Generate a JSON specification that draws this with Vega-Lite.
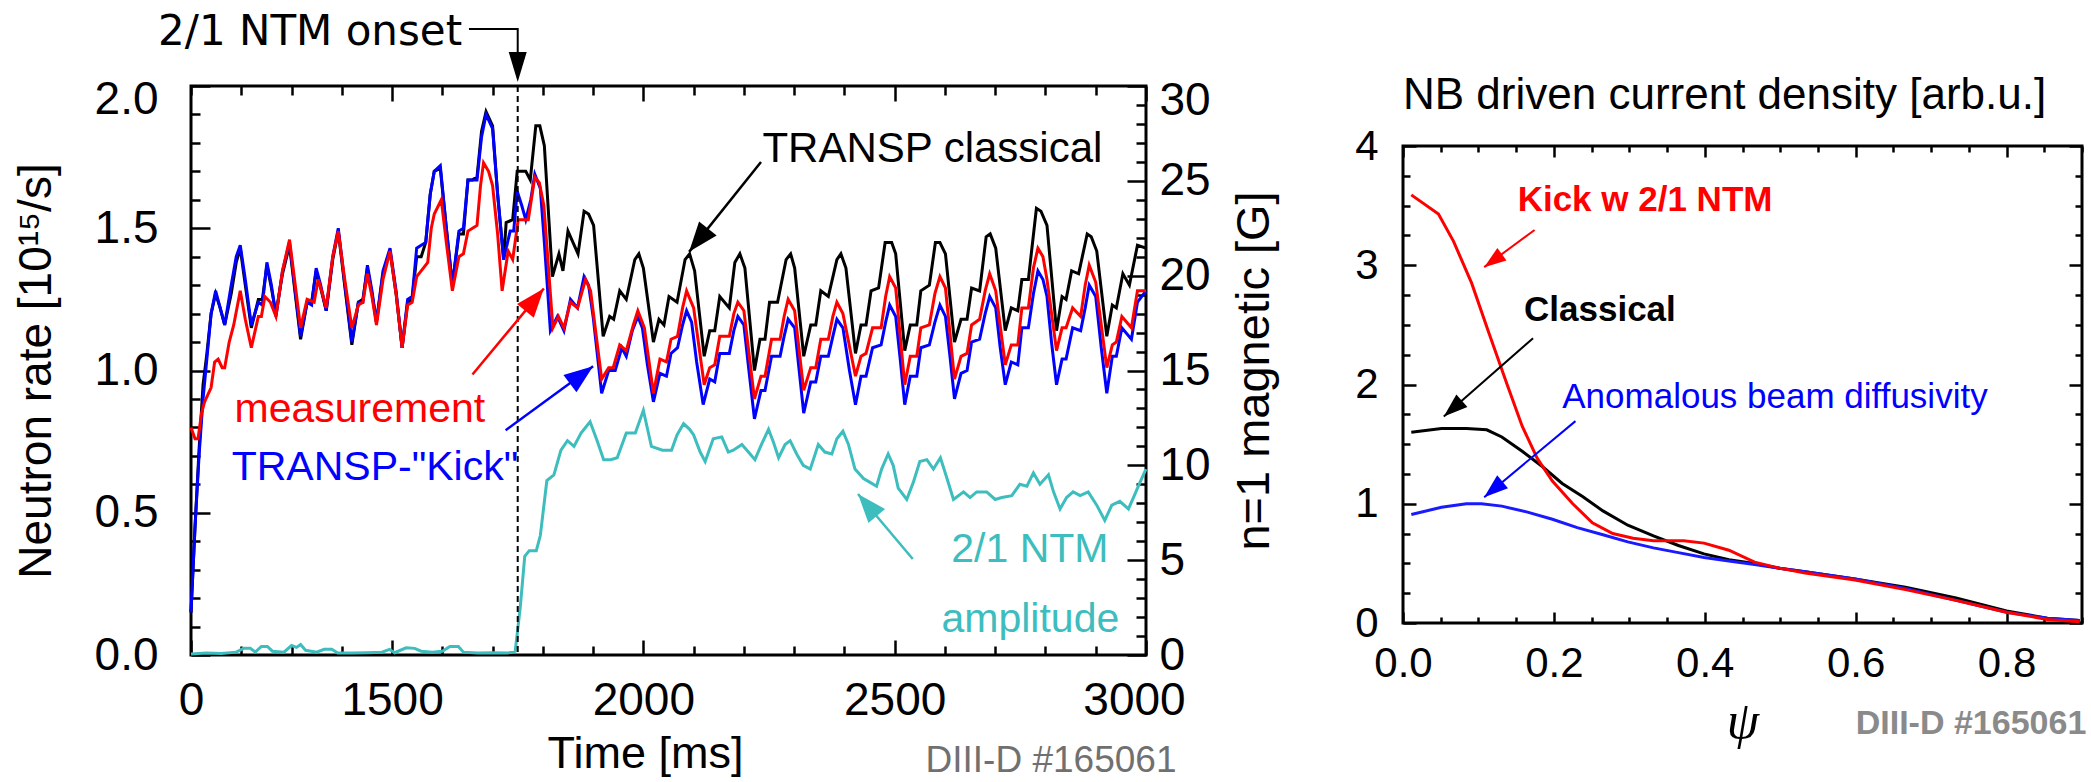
{
"$schema": "https://vega.github.io/schema/vega-lite/v6.json",
"padding": {"left": 11, "top": 9, "right": 5, "bottom": 5},
"background": "#ffffff",
"datasets": {
"classical": [{"t":1100,"v":0.15},{"t":1108,"v":0.45},{"t":1116,"v":0.72},{"t":1124,"v":0.95},{"t":1131,"v":1.05},{"t":1140,"v":1.2},{"t":1149,"v":1.27},{"t":1158,"v":1.22},{"t":1167,"v":1.16},{"t":1180,"v":1.27},{"t":1190,"v":1.38},{"t":1198,"v":1.43},{"t":1208,"v":1.3},{"t":1220,"v":1.15},{"t":1234,"v":1.25},{"t":1242,"v":1.25},{"t":1251,"v":1.37},{"t":1260,"v":1.29},{"t":1269,"v":1.2},{"t":1282,"v":1.34},{"t":1296,"v":1.44},{"t":1306,"v":1.29},{"t":1318,"v":1.11},{"t":1331,"v":1.24},{"t":1340,"v":1.24},{"t":1349,"v":1.35},{"t":1358,"v":1.29},{"t":1369,"v":1.21},{"t":1382,"v":1.39},{"t":1393,"v":1.49},{"t":1405,"v":1.31},{"t":1420,"v":1.09},{"t":1433,"v":1.24},{"t":1442,"v":1.25},{"t":1451,"v":1.36},{"t":1460,"v":1.27},{"t":1469,"v":1.17},{"t":1482,"v":1.34},{"t":1496,"v":1.42},{"t":1508,"v":1.27},{"t":1520,"v":1.08},{"t":1531,"v":1.24},{"t":1540,"v":1.25},{"t":1549,"v":1.4},{"t":1558,"v":1.4},{"t":1567,"v":1.45},{"t":1576,"v":1.62},{"t":1584,"v":1.7},{"t":1596,"v":1.71},{"t":1608,"v":1.5},{"t":1620,"v":1.3},{"t":1633,"v":1.48},{"t":1642,"v":1.48},{"t":1651,"v":1.67},{"t":1660,"v":1.67},{"t":1669,"v":1.68},{"t":1678,"v":1.84},{"t":1687,"v":1.91},{"t":1700,"v":1.86},{"t":1710,"v":1.62},{"t":1722,"v":1.39},{"t":1727,"v":1.52},{"t":1740,"v":1.53},{"t":1749,"v":1.7},{"t":1766,"v":1.7},{"t":1775,"v":1.67},{"t":1786,"v":1.86},{"t":1794,"v":1.86},{"t":1803,"v":1.79},{"t":1819,"v":1.33},{"t":1832,"v":1.41},{"t":1840,"v":1.35},{"t":1850,"v":1.49},{"t":1870,"v":1.41},{"t":1882,"v":1.56},{"t":1891,"v":1.55},{"t":1901,"v":1.51},{"t":1920,"v":1.12},{"t":1933,"v":1.19},{"t":1941,"v":1.18},{"t":1953,"v":1.28},{"t":1966,"v":1.25},{"t":1983,"v":1.39},{"t":1991,"v":1.41},{"t":2000,"v":1.36},{"t":2020,"v":1.1},{"t":2031,"v":1.18},{"t":2041,"v":1.16},{"t":2051,"v":1.26},{"t":2067,"v":1.24},{"t":2083,"v":1.39},{"t":2092,"v":1.41},{"t":2102,"v":1.35},{"t":2121,"v":1.05},{"t":2132,"v":1.14},{"t":2142,"v":1.14},{"t":2152,"v":1.26},{"t":2171,"v":1.22},{"t":2182,"v":1.38},{"t":2192,"v":1.41},{"t":2202,"v":1.36},{"t":2221,"v":1.0},{"t":2232,"v":1.11},{"t":2242,"v":1.11},{"t":2251,"v":1.24},{"t":2267,"v":1.24},{"t":2284,"v":1.39},{"t":2293,"v":1.41},{"t":2301,"v":1.36},{"t":2319,"v":1.05},{"t":2333,"v":1.16},{"t":2343,"v":1.16},{"t":2353,"v":1.28},{"t":2368,"v":1.26},{"t":2385,"v":1.39},{"t":2393,"v":1.41},{"t":2403,"v":1.36},{"t":2422,"v":1.06},{"t":2433,"v":1.16},{"t":2443,"v":1.16},{"t":2453,"v":1.28},{"t":2468,"v":1.29},{"t":2481,"v":1.45},{"t":2494,"v":1.45},{"t":2502,"v":1.41},{"t":2520,"v":1.07},{"t":2531,"v":1.16},{"t":2544,"v":1.16},{"t":2552,"v":1.28},{"t":2569,"v":1.3},{"t":2581,"v":1.45},{"t":2590,"v":1.45},{"t":2601,"v":1.41},{"t":2619,"v":1.1},{"t":2632,"v":1.18},{"t":2644,"v":1.18},{"t":2653,"v":1.29},{"t":2669,"v":1.28},{"t":2682,"v":1.47},{"t":2690,"v":1.48},{"t":2701,"v":1.43},{"t":2720,"v":1.14},{"t":2732,"v":1.22},{"t":2745,"v":1.21},{"t":2753,"v":1.32},{"t":2766,"v":1.32},{"t":2782,"v":1.57},{"t":2791,"v":1.56},{"t":2803,"v":1.51},{"t":2822,"v":1.14},{"t":2833,"v":1.26},{"t":2841,"v":1.25},{"t":2852,"v":1.35},{"t":2866,"v":1.34},{"t":2883,"v":1.48},{"t":2891,"v":1.47},{"t":2902,"v":1.42},{"t":2922,"v":1.12},{"t":2933,"v":1.23},{"t":2941,"v":1.22},{"t":2954,"v":1.34},{"t":2967,"v":1.3},{"t":2983,"v":1.44},{"t":3000,"v":1.43}],
"kick": [{"t":1100,"v":0.15},{"t":1108,"v":0.45},{"t":1116,"v":0.7},{"t":1124,"v":0.9},{"t":1131,"v":1.03},{"t":1140,"v":1.2},{"t":1149,"v":1.28},{"t":1158,"v":1.22},{"t":1167,"v":1.16},{"t":1180,"v":1.3},{"t":1190,"v":1.4},{"t":1198,"v":1.44},{"t":1208,"v":1.32},{"t":1220,"v":1.16},{"t":1234,"v":1.24},{"t":1242,"v":1.23},{"t":1251,"v":1.38},{"t":1260,"v":1.3},{"t":1269,"v":1.19},{"t":1282,"v":1.35},{"t":1296,"v":1.45},{"t":1306,"v":1.3},{"t":1318,"v":1.12},{"t":1331,"v":1.24},{"t":1340,"v":1.23},{"t":1349,"v":1.36},{"t":1358,"v":1.3},{"t":1369,"v":1.21},{"t":1382,"v":1.4},{"t":1393,"v":1.5},{"t":1405,"v":1.32},{"t":1420,"v":1.1},{"t":1433,"v":1.24},{"t":1442,"v":1.24},{"t":1451,"v":1.37},{"t":1460,"v":1.28},{"t":1469,"v":1.17},{"t":1482,"v":1.35},{"t":1496,"v":1.43},{"t":1508,"v":1.28},{"t":1520,"v":1.08},{"t":1531,"v":1.25},{"t":1540,"v":1.26},{"t":1549,"v":1.43},{"t":1558,"v":1.44},{"t":1567,"v":1.45},{"t":1576,"v":1.62},{"t":1584,"v":1.7},{"t":1596,"v":1.72},{"t":1608,"v":1.5},{"t":1620,"v":1.3},{"t":1633,"v":1.49},{"t":1642,"v":1.5},{"t":1651,"v":1.67},{"t":1660,"v":1.67},{"t":1669,"v":1.67},{"t":1678,"v":1.82},{"t":1687,"v":1.9},{"t":1700,"v":1.85},{"t":1710,"v":1.62},{"t":1722,"v":1.39},{"t":1735,"v":1.49},{"t":1742,"v":1.49},{"t":1749,"v":1.63},{"t":1758,"v":1.58},{"t":1766,"v":1.53},{"t":1776,"v":1.6},{"t":1784,"v":1.69},{"t":1795,"v":1.64},{"t":1803,"v":1.45},{"t":1815,"v":1.14},{"t":1829,"v":1.19},{"t":1842,"v":1.14},{"t":1855,"v":1.25},{"t":1869,"v":1.22},{"t":1882,"v":1.33},{"t":1891,"v":1.3},{"t":1900,"v":1.19},{"t":1917,"v":0.92},{"t":1931,"v":1.0},{"t":1944,"v":1.0},{"t":1957,"v":1.08},{"t":1966,"v":1.05},{"t":1978,"v":1.14},{"t":1989,"v":1.19},{"t":1998,"v":1.15},{"t":2008,"v":1.02},{"t":2020,"v":0.89},{"t":2033,"v":0.99},{"t":2046,"v":0.98},{"t":2055,"v":1.06},{"t":2068,"v":1.08},{"t":2078,"v":1.16},{"t":2086,"v":1.21},{"t":2096,"v":1.17},{"t":2106,"v":1.03},{"t":2119,"v":0.88},{"t":2132,"v":0.97},{"t":2142,"v":0.96},{"t":2152,"v":1.06},{"t":2171,"v":1.06},{"t":2180,"v":1.14},{"t":2188,"v":1.19},{"t":2200,"v":1.16},{"t":2210,"v":1.0},{"t":2221,"v":0.83},{"t":2234,"v":0.93},{"t":2242,"v":0.93},{"t":2255,"v":1.05},{"t":2272,"v":1.05},{"t":2280,"v":1.12},{"t":2288,"v":1.18},{"t":2301,"v":1.15},{"t":2310,"v":1.0},{"t":2319,"v":0.85},{"t":2333,"v":0.96},{"t":2343,"v":0.96},{"t":2353,"v":1.05},{"t":2368,"v":1.05},{"t":2377,"v":1.12},{"t":2385,"v":1.18},{"t":2397,"v":1.15},{"t":2410,"v":1.0},{"t":2422,"v":0.88},{"t":2433,"v":0.98},{"t":2443,"v":0.98},{"t":2456,"v":1.08},{"t":2473,"v":1.09},{"t":2482,"v":1.17},{"t":2490,"v":1.23},{"t":2502,"v":1.19},{"t":2511,"v":1.04},{"t":2520,"v":0.88},{"t":2531,"v":0.98},{"t":2544,"v":0.98},{"t":2552,"v":1.08},{"t":2569,"v":1.09},{"t":2580,"v":1.17},{"t":2590,"v":1.23},{"t":2601,"v":1.19},{"t":2610,"v":1.05},{"t":2619,"v":0.9},{"t":2632,"v":0.99},{"t":2644,"v":1.0},{"t":2653,"v":1.1},{"t":2669,"v":1.11},{"t":2680,"v":1.2},{"t":2689,"v":1.26},{"t":2701,"v":1.22},{"t":2710,"v":1.08},{"t":2720,"v":0.95},{"t":2732,"v":1.03},{"t":2745,"v":1.02},{"t":2753,"v":1.15},{"t":2766,"v":1.15},{"t":2776,"v":1.27},{"t":2785,"v":1.35},{"t":2795,"v":1.32},{"t":2803,"v":1.26},{"t":2812,"v":1.1},{"t":2822,"v":0.95},{"t":2833,"v":1.04},{"t":2841,"v":1.04},{"t":2854,"v":1.15},{"t":2870,"v":1.14},{"t":2879,"v":1.22},{"t":2887,"v":1.3},{"t":2900,"v":1.26},{"t":2911,"v":1.08},{"t":2922,"v":0.92},{"t":2933,"v":1.05},{"t":2941,"v":1.05},{"t":2952,"v":1.15},{"t":2971,"v":1.11},{"t":2983,"v":1.24},{"t":3000,"v":1.28}],
"meas": [{"t":1100,"v":0.8},{"t":1108,"v":0.76},{"t":1114,"v":0.76},{"t":1121,"v":0.85},{"t":1127,"v":0.89},{"t":1140,"v":0.94},{"t":1147,"v":1.03},{"t":1154,"v":1.04},{"t":1162,"v":1.01},{"t":1167,"v":1.01},{"t":1176,"v":1.1},{"t":1185,"v":1.16},{"t":1198,"v":1.28},{"t":1208,"v":1.18},{"t":1220,"v":1.08},{"t":1234,"v":1.19},{"t":1240,"v":1.19},{"t":1247,"v":1.26},{"t":1258,"v":1.24},{"t":1269,"v":1.19},{"t":1282,"v":1.35},{"t":1296,"v":1.46},{"t":1306,"v":1.32},{"t":1318,"v":1.15},{"t":1331,"v":1.25},{"t":1345,"v":1.24},{"t":1353,"v":1.32},{"t":1360,"v":1.28},{"t":1369,"v":1.22},{"t":1382,"v":1.4},{"t":1393,"v":1.49},{"t":1405,"v":1.33},{"t":1420,"v":1.15},{"t":1433,"v":1.23},{"t":1442,"v":1.24},{"t":1451,"v":1.34},{"t":1460,"v":1.26},{"t":1469,"v":1.16},{"t":1482,"v":1.32},{"t":1496,"v":1.42},{"t":1508,"v":1.27},{"t":1520,"v":1.08},{"t":1531,"v":1.23},{"t":1540,"v":1.24},{"t":1549,"v":1.33},{"t":1558,"v":1.35},{"t":1571,"v":1.38},{"t":1578,"v":1.5},{"t":1584,"v":1.55},{"t":1598,"v":1.6},{"t":1608,"v":1.45},{"t":1620,"v":1.28},{"t":1633,"v":1.4},{"t":1642,"v":1.41},{"t":1651,"v":1.49},{"t":1660,"v":1.5},{"t":1669,"v":1.51},{"t":1676,"v":1.65},{"t":1682,"v":1.73},{"t":1692,"v":1.7},{"t":1700,"v":1.65},{"t":1710,"v":1.48},{"t":1719,"v":1.28},{"t":1731,"v":1.42},{"t":1740,"v":1.39},{"t":1751,"v":1.53},{"t":1771,"v":1.53},{"t":1784,"v":1.68},{"t":1793,"v":1.66},{"t":1802,"v":1.58},{"t":1820,"v":1.15},{"t":1831,"v":1.19},{"t":1842,"v":1.15},{"t":1855,"v":1.24},{"t":1869,"v":1.22},{"t":1885,"v":1.32},{"t":1895,"v":1.28},{"t":1917,"v":0.97},{"t":1931,"v":1.01},{"t":1940,"v":1.01},{"t":1953,"v":1.09},{"t":1966,"v":1.07},{"t":1980,"v":1.16},{"t":1989,"v":1.21},{"t":2002,"v":1.15},{"t":2020,"v":0.92},{"t":2033,"v":1.04},{"t":2046,"v":1.03},{"t":2055,"v":1.11},{"t":2068,"v":1.12},{"t":2078,"v":1.22},{"t":2086,"v":1.28},{"t":2100,"v":1.22},{"t":2121,"v":0.95},{"t":2132,"v":1.01},{"t":2142,"v":1.02},{"t":2152,"v":1.12},{"t":2171,"v":1.12},{"t":2180,"v":1.2},{"t":2188,"v":1.24},{"t":2200,"v":1.21},{"t":2221,"v":0.9},{"t":2234,"v":0.98},{"t":2242,"v":0.98},{"t":2255,"v":1.11},{"t":2272,"v":1.11},{"t":2280,"v":1.19},{"t":2288,"v":1.25},{"t":2301,"v":1.21},{"t":2319,"v":0.93},{"t":2333,"v":1.01},{"t":2343,"v":1.01},{"t":2353,"v":1.11},{"t":2368,"v":1.11},{"t":2377,"v":1.19},{"t":2385,"v":1.24},{"t":2397,"v":1.2},{"t":2422,"v":0.98},{"t":2433,"v":1.05},{"t":2443,"v":1.06},{"t":2456,"v":1.15},{"t":2473,"v":1.15},{"t":2482,"v":1.26},{"t":2490,"v":1.33},{"t":2502,"v":1.29},{"t":2520,"v":0.95},{"t":2531,"v":1.05},{"t":2544,"v":1.05},{"t":2552,"v":1.15},{"t":2569,"v":1.16},{"t":2580,"v":1.27},{"t":2590,"v":1.33},{"t":2601,"v":1.29},{"t":2619,"v":0.97},{"t":2632,"v":1.05},{"t":2644,"v":1.06},{"t":2653,"v":1.16},{"t":2669,"v":1.18},{"t":2680,"v":1.28},{"t":2689,"v":1.34},{"t":2701,"v":1.28},{"t":2720,"v":1.02},{"t":2732,"v":1.09},{"t":2745,"v":1.09},{"t":2753,"v":1.22},{"t":2766,"v":1.22},{"t":2776,"v":1.36},{"t":2785,"v":1.43},{"t":2795,"v":1.4},{"t":2803,"v":1.32},{"t":2822,"v":1.07},{"t":2833,"v":1.15},{"t":2841,"v":1.15},{"t":2854,"v":1.22},{"t":2870,"v":1.19},{"t":2879,"v":1.3},{"t":2887,"v":1.37},{"t":2900,"v":1.31},{"t":2922,"v":1.01},{"t":2933,"v":1.09},{"t":2941,"v":1.1},{"t":2952,"v":1.19},{"t":2971,"v":1.15},{"t":2983,"v":1.28},{"t":3000,"v":1.28}],
"ntm": [{"t":1100,"g":0.05},{"t":1130,"g":0.1},{"t":1160,"g":0.08},{"t":1190,"g":0.15},{"t":1205,"g":0.35},{"t":1218,"g":0.35},{"t":1228,"g":0.15},{"t":1240,"g":0.45},{"t":1252,"g":0.45},{"t":1262,"g":0.2},{"t":1285,"g":0.15},{"t":1300,"g":0.5},{"t":1310,"g":0.4},{"t":1318,"g":0.55},{"t":1328,"g":0.25},{"t":1350,"g":0.15},{"t":1365,"g":0.3},{"t":1380,"g":0.3},{"t":1392,"g":0.1},{"t":1420,"g":0.1},{"t":1450,"g":0.12},{"t":1480,"g":0.15},{"t":1495,"g":0.3},{"t":1505,"g":0.12},{"t":1528,"g":0.38},{"t":1545,"g":0.35},{"t":1558,"g":0.2},{"t":1580,"g":0.15},{"t":1600,"g":0.2},{"t":1615,"g":0.45},{"t":1632,"g":0.45},{"t":1642,"g":0.15},{"t":1670,"g":0.1},{"t":1700,"g":0.12},{"t":1730,"g":0.1},{"t":1745,"g":0.2},{"t":1755,"g":2.5},{"t":1764,"g":5.2},{"t":1773,"g":5.5},{"t":1787,"g":5.5},{"t":1795,"g":6.3},{"t":1808,"g":9.2},{"t":1822,"g":9.5},{"t":1836,"g":10.8},{"t":1849,"g":11.3},{"t":1862,"g":11.0},{"t":1876,"g":11.7},{"t":1894,"g":12.3},{"t":1908,"g":11.3},{"t":1921,"g":10.3},{"t":1935,"g":10.3},{"t":1948,"g":10.4},{"t":1966,"g":11.7},{"t":1984,"g":11.7},{"t":2000,"g":12.9},{"t":2016,"g":11.0},{"t":2038,"g":10.8},{"t":2056,"g":10.8},{"t":2067,"g":11.6},{"t":2080,"g":12.2},{"t":2092,"g":11.9},{"t":2100,"g":11.6},{"t":2113,"g":10.7},{"t":2123,"g":10.2},{"t":2139,"g":11.4},{"t":2156,"g":11.5},{"t":2169,"g":10.7},{"t":2179,"g":10.8},{"t":2196,"g":11.1},{"t":2209,"g":10.7},{"t":2222,"g":10.3},{"t":2235,"g":11.1},{"t":2249,"g":11.9},{"t":2259,"g":11.2},{"t":2269,"g":10.4},{"t":2282,"g":11.1},{"t":2292,"g":11.3},{"t":2305,"g":10.6},{"t":2318,"g":10.0},{"t":2332,"g":9.8},{"t":2348,"g":11.1},{"t":2361,"g":10.7},{"t":2375,"g":10.6},{"t":2385,"g":11.4},{"t":2397,"g":11.8},{"t":2408,"g":11.1},{"t":2421,"g":9.8},{"t":2438,"g":9.3},{"t":2451,"g":9.1},{"t":2464,"g":8.9},{"t":2474,"g":9.8},{"t":2487,"g":10.6},{"t":2497,"g":10.0},{"t":2507,"g":8.8},{"t":2524,"g":8.2},{"t":2537,"g":9.1},{"t":2550,"g":10.2},{"t":2564,"g":10.3},{"t":2577,"g":9.8},{"t":2591,"g":10.4},{"t":2603,"g":9.4},{"t":2617,"g":8.2},{"t":2637,"g":8.6},{"t":2650,"g":8.3},{"t":2663,"g":8.6},{"t":2683,"g":8.6},{"t":2700,"g":8.2},{"t":2713,"g":8.3},{"t":2733,"g":8.4},{"t":2749,"g":9.0},{"t":2763,"g":8.9},{"t":2776,"g":9.6},{"t":2789,"g":9.0},{"t":2806,"g":9.5},{"t":2816,"g":8.6},{"t":2829,"g":7.7},{"t":2842,"g":8.3},{"t":2855,"g":8.6},{"t":2869,"g":8.4},{"t":2885,"g":8.6},{"t":2902,"g":7.9},{"t":2918,"g":7.1},{"t":2932,"g":7.9},{"t":2948,"g":8.1},{"t":2965,"g":7.7},{"t":2975,"g":8.3},{"t":2988,"g":9.1},{"t":3000,"g":9.8}],
"kick2": [{"p":0.011,"j":3.59},{"p":0.047,"j":3.43},{"p":0.067,"j":3.2},{"p":0.091,"j":2.85},{"p":0.114,"j":2.43},{"p":0.138,"j":2.0},{"p":0.158,"j":1.65},{"p":0.178,"j":1.38},{"p":0.198,"j":1.19},{"p":0.225,"j":1.0},{"p":0.251,"j":0.84},{"p":0.278,"j":0.75},{"p":0.305,"j":0.71},{"p":0.332,"j":0.69},{"p":0.372,"j":0.69},{"p":0.399,"j":0.67},{"p":0.432,"j":0.61},{"p":0.466,"j":0.51},{"p":0.499,"j":0.46},{"p":0.533,"j":0.42},{"p":0.599,"j":0.36},{"p":0.666,"j":0.28},{"p":0.733,"j":0.19},{"p":0.8,"j":0.09},{"p":0.854,"j":0.03},{"p":0.897,"j":0.01}],
"classical2": [{"p":0.011,"j":1.6},{"p":0.051,"j":1.63},{"p":0.084,"j":1.63},{"p":0.111,"j":1.62},{"p":0.131,"j":1.56},{"p":0.158,"j":1.44},{"p":0.185,"j":1.31},{"p":0.211,"j":1.17},{"p":0.238,"j":1.06},{"p":0.265,"j":0.94},{"p":0.298,"j":0.82},{"p":0.332,"j":0.73},{"p":0.365,"j":0.65},{"p":0.399,"j":0.58},{"p":0.432,"j":0.53},{"p":0.466,"j":0.5},{"p":0.499,"j":0.46},{"p":0.533,"j":0.43},{"p":0.599,"j":0.37},{"p":0.666,"j":0.3},{"p":0.733,"j":0.21},{"p":0.8,"j":0.1},{"p":0.854,"j":0.04},{"p":0.897,"j":0.02}],
"anom2": [{"p":0.011,"j":0.91},{"p":0.051,"j":0.97},{"p":0.084,"j":1.0},{"p":0.104,"j":1.0},{"p":0.131,"j":0.98},{"p":0.165,"j":0.93},{"p":0.198,"j":0.87},{"p":0.231,"j":0.8},{"p":0.265,"j":0.74},{"p":0.298,"j":0.68},{"p":0.332,"j":0.63},{"p":0.365,"j":0.59},{"p":0.399,"j":0.55},{"p":0.432,"j":0.52},{"p":0.466,"j":0.49},{"p":0.499,"j":0.46},{"p":0.533,"j":0.43},{"p":0.599,"j":0.37},{"p":0.666,"j":0.29},{"p":0.733,"j":0.19},{"p":0.8,"j":0.09},{"p":0.854,"j":0.04},{"p":0.897,"j":0.02}]
},
"hconcat": [
{
"width": 955, "height": 569,
"resolve": {"scale": {"y": "independent"}, "axis": {"x": "independent"}},
"layer": [
{"data": {"name": "classical"}, "mark": {"type": "line", "color": "#000000", "strokeWidth": 3},
 "encoding": {
  "x": {"field": "t", "type": "quantitative", "scale": {"domain": [1100, 3000], "nice": false, "zero": false},
   "axis": {"orient": "bottom", "values": [1100,1200,1300,1400,1500,1600,1700,1800,1900,2000,2100,2200,2300,2400,2500,2600,2700,2800,2900,3000], "format": "d",
    "labelExpr": "datum.value == 1100 ? '0' : (datum.value % 500 == 0 ? datum.label : '')",
    "tickSize": {"condition": {"test": "datum.value % 500 == 0 || datum.value == 1100", "value": -15}, "value": -9},
    "labelPadding": 38,
    "labelOffset": {"condition": {"test": "datum.value == 3000", "value": -12}, "value": 0},
    "labelFont": "Liberation Sans, Arial, sans-serif", "labelFontSize": 46,
    "title": "Time [ms]", "titleFont": "Liberation Sans, Arial, sans-serif", "titleFontSize": 45, "titlePadding": 2, "titleX": 454}},
  "y": {"field": "v", "type": "quantitative", "scale": {"domain": [0, 2], "nice": false, "zero": false},
   "axis": {"orient": "left", "values": [0,0.1,0.2,0.3,0.4,0.5,0.6,0.7,0.8,0.9,1,1.1,1.2,1.3,1.4,1.5,1.6,1.7,1.8,1.9,2],
    "labelExpr": "abs(datum.value*2 - round(datum.value*2)) < 0.000001 ? format(datum.value, '.1f') : ''",
    "tickSize": {"condition": {"test": "abs(datum.value*2 - round(datum.value*2)) < 0.000001", "value": -19}, "value": -9},
    "labelPadding": 52,
    "labelOffset": {"condition": {"test": "datum.value > 1.99", "value": 13}, "value": 0},
    "labelFont": "Liberation Sans, Arial, sans-serif", "labelFontSize": 46,
    "title": "Neutron rate [10¹⁵/s]", "titleFont": "Liberation Sans, Arial, sans-serif", "titleFontSize": 46, "titlePadding": 34}}
 }},
{"data": {"name": "kick"}, "mark": {"type": "line", "color": "#0000ff", "strokeWidth": 3},
 "encoding": {
  "x": {"field": "t", "type": "quantitative", "scale": {"domain": [1100, 3000], "nice": false, "zero": false}, "axis": null},
  "y": {"field": "v", "type": "quantitative", "scale": {"domain": [0, 2], "nice": false, "zero": false}, "axis": null}}},
{"data": {"name": "meas"}, "mark": {"type": "line", "color": "#ff0000", "strokeWidth": 3},
 "encoding": {
  "x": {"field": "t", "type": "quantitative", "scale": {"domain": [1100, 3000], "nice": false, "zero": false}, "axis": null},
  "y": {"field": "v", "type": "quantitative", "scale": {"domain": [0, 2], "nice": false, "zero": false}, "axis": null}}},
{"data": {"name": "ntm"}, "mark": {"type": "line", "color": "#3dbdbd", "strokeWidth": 3},
 "encoding": {
  "x": {"field": "t", "type": "quantitative", "scale": {"domain": [1100, 3000], "nice": false, "zero": false},
   "axis": {"orient": "top", "values": [1100,1200,1300,1400,1500,1600,1700,1800,1900,2000,2100,2200,2300,2400,2500,2600,2700,2800,2900,3000], "labels": false, "title": null,
    "tickSize": {"condition": {"test": "datum.value % 500 == 0", "value": -15}, "value": -9}}},
  "y": {"field": "g", "type": "quantitative", "scale": {"domain": [0, 30], "nice": false, "zero": false},
   "axis": {"orient": "right", "values": [0,1,2,3,4,5,6,7,8,9,10,11,12,13,14,15,16,17,18,19,20,21,22,23,24,25,26,27,28,29,30],
    "labelExpr": "datum.value % 5 == 0 ? datum.label : ''",
    "tickSize": {"condition": {"test": "datum.value % 5 == 0", "value": -19}, "value": -10},
    "labelPadding": 32,
    "labelOffset": {"condition": {"test": "datum.value == 30", "value": 14}, "value": 0},
    "labelFont": "Liberation Sans, Arial, sans-serif", "labelFontSize": 46,
    "title": "n=1 magnetic [G]", "titleFont": "Liberation Sans, Arial, sans-serif", "titleFontSize": 47, "titleAngle": 270, "titleBaseline": "top", "titlePadding": 21}}}},
{"data": {"values": [{"t": 1750}]}, "mark": {"type": "rule", "color": "#000000", "strokeWidth": 2, "strokeDash": [6, 4]},
 "encoding": {"x": {"field": "t", "type": "quantitative", "scale": {"domain": [1100, 3000], "nice": false, "zero": false}, "axis": null}}},
{"data": {"values": [{"t": 1653, "v": 2.2, "o": 1}, {"t": 1750, "v": 2.2, "o": 2}, {"t": 1750, "v": 2.1, "o": 3}]},
 "mark": {"type": "line", "color": "#000000", "strokeWidth": 2},
 "encoding": {
  "x": {"field": "t", "type": "quantitative", "scale": {"domain": [1100, 3000], "nice": false, "zero": false}, "axis": null},
  "y": {"field": "v", "type": "quantitative", "scale": {"domain": [0, 2], "nice": false, "zero": false}, "axis": null},
  "order": {"field": "o"}}},
{"data": {"values": [{"t": 1750, "v": 2.014}]},
 "mark": {"type": "point", "shape": "M0,0L0.6,2L-0.6,2Z", "size": 900, "angle": 180, "filled": true, "color": "#000000", "opacity": 1},
 "encoding": {
  "x": {"field": "t", "type": "quantitative", "scale": {"domain": [1100, 3000], "nice": false, "zero": false}, "axis": null},
  "y": {"field": "v", "type": "quantitative", "scale": {"domain": [0, 2], "nice": false, "zero": false}, "axis": null}}},
{"data": {"values": [{"t": 2234, "v": 1.733, "t2": 2091, "v2": 1.417, "c": "k"}, {"t": 1660, "v": 0.986, "t2": 1802, "v2": 1.288, "c": "r"}, {"t": 1726, "v": 0.79, "t2": 1900, "v2": 1.015, "c": "b"}]},
 "mark": {"type": "rule", "strokeWidth": 2.5},
 "encoding": {
  "x": {"field": "t", "type": "quantitative", "scale": {"domain": [1100, 3000], "nice": false, "zero": false}, "axis": null},
  "x2": {"field": "t2"},
  "y": {"field": "v", "type": "quantitative", "scale": {"domain": [0, 2], "nice": false, "zero": false}, "axis": null},
  "y2": {"field": "v2"},
  "color": {"field": "c", "type": "nominal", "scale": {"domain": ["k", "r", "b"], "range": ["#000000", "#ff0000", "#0000ff"]}, "legend": null}}},
{"data": {"values": [{"t": 2091, "v": 1.417}]},
 "mark": {"type": "point", "shape": "M0,0L0.75,2L-0.75,2Z", "size": 900, "angle": 218.7, "filled": true, "color": "#000000", "opacity": 1},
 "encoding": {
  "x": {"field": "t", "type": "quantitative", "scale": {"domain": [1100, 3000], "nice": false, "zero": false}, "axis": null},
  "y": {"field": "v", "type": "quantitative", "scale": {"domain": [0, 2], "nice": false, "zero": false}, "axis": null}}},
{"data": {"values": [{"t": 1802, "v": 1.288}]},
 "mark": {"type": "point", "shape": "M0,0L0.75,2L-0.75,2Z", "size": 841, "angle": 39.5, "filled": true, "color": "#ff0000", "opacity": 1},
 "encoding": {
  "x": {"field": "t", "type": "quantitative", "scale": {"domain": [1100, 3000], "nice": false, "zero": false}, "axis": null},
  "y": {"field": "v", "type": "quantitative", "scale": {"domain": [0, 2], "nice": false, "zero": false}, "axis": null}}},
{"data": {"values": [{"t": 1900, "v": 1.015}]},
 "mark": {"type": "point", "shape": "M0,0L0.75,2L-0.75,2Z", "size": 841, "angle": 53, "filled": true, "color": "#0000ff", "opacity": 1},
 "encoding": {
  "x": {"field": "t", "type": "quantitative", "scale": {"domain": [1100, 3000], "nice": false, "zero": false}, "axis": null},
  "y": {"field": "v", "type": "quantitative", "scale": {"domain": [0, 2], "nice": false, "zero": false}, "axis": null}}},
{"data": {"values": [{"t": 2536, "g": 5.06, "t2": 2427, "g2": 8.49}]},
 "mark": {"type": "rule", "strokeWidth": 2.5, "color": "#3dbdbd"},
 "encoding": {
  "x": {"field": "t", "type": "quantitative", "scale": {"domain": [1100, 3000], "nice": false, "zero": false}, "axis": null},
  "x2": {"field": "t2"},
  "y": {"field": "g", "type": "quantitative", "scale": {"domain": [0, 30], "nice": false, "zero": false}, "axis": null},
  "y2": {"field": "g2"}}},
{"data": {"values": [{"t": 2427, "g": 8.49}]},
 "mark": {"type": "point", "shape": "M0,0L0.75,2L-0.75,2Z", "size": 841, "angle": 319.7, "filled": true, "color": "#3dbdbd", "opacity": 1},
 "encoding": {
  "x": {"field": "t", "type": "quantitative", "scale": {"domain": [1100, 3000], "nice": false, "zero": false}, "axis": null},
  "y": {"field": "g", "type": "quantitative", "scale": {"domain": [0, 30], "nice": false, "zero": false}, "axis": null}}},
{"data": {"values": [{"t": 1436, "v": 0.861, "label": "measurement"}]},
 "mark": {"type": "text", "color": "#ff0000", "font": "Liberation Sans, Arial, sans-serif", "fontSize": 41, "align": "center", "baseline": "middle"},
 "encoding": {
  "x": {"field": "t", "type": "quantitative", "scale": {"domain": [1100, 3000], "nice": false, "zero": false}, "axis": null},
  "y": {"field": "v", "type": "quantitative", "scale": {"domain": [0, 2], "nice": false, "zero": false}, "axis": null},
  "text": {"field": "label"}}},
{"data": {"values": [{"t": 1466, "v": 0.657, "label": "TRANSP-\"Kick\""}]},
 "mark": {"type": "text", "color": "#0000ff", "font": "Liberation Sans, Arial, sans-serif", "fontSize": 41, "align": "center", "baseline": "middle"},
 "encoding": {
  "x": {"field": "t", "type": "quantitative", "scale": {"domain": [1100, 3000], "nice": false, "zero": false}, "axis": null},
  "y": {"field": "v", "type": "quantitative", "scale": {"domain": [0, 2], "nice": false, "zero": false}, "axis": null},
  "text": {"field": "label"}}},
{"data": {"values": [{"t": 2575, "v": 1.78, "label": "TRANSP classical"}]},
 "mark": {"type": "text", "color": "#000000", "font": "Liberation Sans, Arial, sans-serif", "fontSize": 42, "align": "center", "baseline": "middle"},
 "encoding": {
  "x": {"field": "t", "type": "quantitative", "scale": {"domain": [1100, 3000], "nice": false, "zero": false}, "axis": null},
  "y": {"field": "v", "type": "quantitative", "scale": {"domain": [0, 2], "nice": false, "zero": false}, "axis": null},
  "text": {"field": "label"}}},
{"data": {"values": [{"t": 2769, "v": 0.369, "label": "2/1 NTM"}, {"t": 2770, "v": 0.123, "label": "amplitude"}]},
 "mark": {"type": "text", "color": "#3dbdbd", "font": "Liberation Sans, Arial, sans-serif", "fontSize": 41, "align": "center", "baseline": "middle"},
 "encoding": {
  "x": {"field": "t", "type": "quantitative", "scale": {"domain": [1100, 3000], "nice": false, "zero": false}, "axis": null},
  "y": {"field": "v", "type": "quantitative", "scale": {"domain": [0, 2], "nice": false, "zero": false}, "axis": null},
  "text": {"field": "label"}}},
{"data": {"values": [{"t": 2811, "v": -0.373, "label": "DIII-D #165061"}]},
 "mark": {"type": "text", "color": "#707070", "font": "Liberation Sans, Arial, sans-serif", "fontSize": 37, "align": "center", "baseline": "middle"},
 "encoding": {
  "x": {"field": "t", "type": "quantitative", "scale": {"domain": [1100, 3000], "nice": false, "zero": false}, "axis": null},
  "y": {"field": "v", "type": "quantitative", "scale": {"domain": [0, 2], "nice": false, "zero": false}, "axis": null},
  "text": {"field": "label"}}},
{"data": {"values": [{"t": 1337, "v": 2.19, "label": "2/1 NTM onset"}]},
 "mark": {"type": "text", "color": "#000000", "font": "DejaVu Sans", "fontSize": 42, "align": "center", "baseline": "middle"},
 "encoding": {
  "x": {"field": "t", "type": "quantitative", "scale": {"domain": [1100, 3000], "nice": false, "zero": false}, "axis": null},
  "y": {"field": "v", "type": "quantitative", "scale": {"domain": [0, 2], "nice": false, "zero": false}, "axis": null},
  "text": {"field": "label"}}}
]
},
{
"vconcat": [
{"width": 679, "height": 60, "view": {"stroke": null}, "data": {"values": [{"a": 0}]}, "mark": {"type": "point", "opacity": 0}},
{
"width": 679, "height": 477,
"title": {"text": "NB driven current density [arb.u.]", "anchor": "start", "frame": "group", "baseline": "alphabetic", "offset": -28, "font": "Liberation Sans, Arial, sans-serif", "fontSize": 44, "fontWeight": "normal", "color": "#000000"},
"resolve": {"axis": {"x": "independent", "y": "independent"}},
"layer": [
{"data": {"name": "classical2"}, "mark": {"type": "line", "color": "#000000", "strokeWidth": 3},
 "encoding": {
  "x": {"field": "p", "type": "quantitative", "scale": {"domain": [0, 0.9], "nice": false, "zero": false},
   "axis": {"orient": "bottom", "values": [0,0.05,0.1,0.15,0.2,0.25,0.3,0.35,0.4,0.45,0.5,0.55,0.6,0.65,0.7,0.75,0.8,0.85,0.9],
    "labelExpr": "abs(datum.value*5 - round(datum.value*5)) < 0.000001 ? format(datum.value, '.1f') : ''",
    "tickSize": {"condition": {"test": "abs(datum.value*5 - round(datum.value*5)) < 0.000001", "value": -11}, "value": -6},
    "labelPadding": 31, "labelFont": "Liberation Sans, Arial, sans-serif", "labelFontSize": 42,
    "title": "ψ", "titleFont": "Liberation Serif, DejaVu Serif, serif", "titleFontStyle": "italic", "titleFontSize": 52, "titlePadding": 7}},
  "y": {"field": "j", "type": "quantitative", "scale": {"domain": [0, 4], "nice": false, "zero": false},
   "axis": {"orient": "left", "values": [0,0.25,0.5,0.75,1,1.25,1.5,1.75,2,2.25,2.5,2.75,3,3.25,3.5,3.75,4],
    "labelExpr": "abs(datum.value - round(datum.value)) < 0.000001 ? format(datum.value, 'd') : ''",
    "tickSize": {"condition": {"test": "abs(datum.value - round(datum.value)) < 0.000001", "value": -13}, "value": -7},
    "labelPadding": 38, "labelFont": "Liberation Sans, Arial, sans-serif", "labelFontSize": 42, "title": null}}}},
{"data": {"name": "anom2"}, "mark": {"type": "line", "color": "#1a1aff", "strokeWidth": 3},
 "encoding": {
  "x": {"field": "p", "type": "quantitative", "scale": {"domain": [0, 0.9], "nice": false, "zero": false}, "axis": null},
  "y": {"field": "j", "type": "quantitative", "scale": {"domain": [0, 4], "nice": false, "zero": false}, "axis": null}}},
{"data": {"name": "kick2"}, "mark": {"type": "line", "color": "#ff0000", "strokeWidth": 3},
 "encoding": {
  "x": {"field": "p", "type": "quantitative", "scale": {"domain": [0, 0.9], "nice": false, "zero": false},
   "axis": {"orient": "top", "values": [0,0.05,0.1,0.15,0.2,0.25,0.3,0.35,0.4,0.45,0.5,0.55,0.6,0.65,0.7,0.75,0.8,0.85,0.9], "labels": false, "title": null,
    "tickSize": {"condition": {"test": "abs(datum.value*5 - round(datum.value*5)) < 0.000001", "value": -11}, "value": -6}}},
  "y": {"field": "j", "type": "quantitative", "scale": {"domain": [0, 4], "nice": false, "zero": false},
   "axis": {"orient": "right", "values": [0,0.25,0.5,0.75,1,1.25,1.5,1.75,2,2.25,2.5,2.75,3,3.25,3.5,3.75,4], "labels": false, "title": null,
    "tickSize": {"condition": {"test": "abs(datum.value - round(datum.value)) < 0.000001", "value": -13}, "value": -7}}}}},
{"data": {"values": [{"p": 0.1744, "j": 3.296, "p2": 0.1076, "j2": 2.984, "c": "r"}, {"p": 0.1724, "j": 2.388, "p2": 0.0541, "j2": 1.731, "c": "k"}, {"p": 0.2286, "j": 1.693, "p2": 0.1076, "j2": 1.055, "c": "b"}]},
 "mark": {"type": "rule", "strokeWidth": 2},
 "encoding": {
  "x": {"field": "p", "type": "quantitative", "scale": {"domain": [0, 0.9], "nice": false, "zero": false}, "axis": null},
  "x2": {"field": "p2"},
  "y": {"field": "j", "type": "quantitative", "scale": {"domain": [0, 4], "nice": false, "zero": false}, "axis": null},
  "y2": {"field": "j2"},
  "color": {"field": "c", "type": "nominal", "scale": {"domain": ["k", "r", "b"], "range": ["#000000", "#ff0000", "#0000ff"]}, "legend": null}}},
{"data": {"values": [{"p": 0.1076, "j": 2.984}]},
 "mark": {"type": "point", "shape": "M0,0L0.7,2L-0.7,2Z", "size": 484, "angle": 233.8, "filled": true, "color": "#ff0000", "opacity": 1},
 "encoding": {
  "x": {"field": "p", "type": "quantitative", "scale": {"domain": [0, 0.9], "nice": false, "zero": false}, "axis": null},
  "y": {"field": "j", "type": "quantitative", "scale": {"domain": [0, 4], "nice": false, "zero": false}, "axis": null}}},
{"data": {"values": [{"p": 0.0541, "j": 1.731}]},
 "mark": {"type": "point", "shape": "M0,0L0.7,2L-0.7,2Z", "size": 576, "angle": 228.8, "filled": true, "color": "#000000", "opacity": 1},
 "encoding": {
  "x": {"field": "p", "type": "quantitative", "scale": {"domain": [0, 0.9], "nice": false, "zero": false}, "axis": null},
  "y": {"field": "j", "type": "quantitative", "scale": {"domain": [0, 4], "nice": false, "zero": false}, "axis": null}}},
{"data": {"values": [{"p": 0.1076, "j": 1.055}]},
 "mark": {"type": "point", "shape": "M0,0L0.7,2L-0.7,2Z", "size": 576, "angle": 230.1, "filled": true, "color": "#0000ff", "opacity": 1},
 "encoding": {
  "x": {"field": "p", "type": "quantitative", "scale": {"domain": [0, 0.9], "nice": false, "zero": false}, "axis": null},
  "y": {"field": "j", "type": "quantitative", "scale": {"domain": [0, 4], "nice": false, "zero": false}, "axis": null}}},
{"data": {"values": [{"p": 0.3208, "j": 3.547, "label": "Kick w 2/1 NTM"}]},
 "mark": {"type": "text", "color": "#ff0000", "font": "Liberation Sans, Arial, sans-serif", "fontWeight": "bold", "fontSize": 35, "align": "center", "baseline": "middle"},
 "encoding": {
  "x": {"field": "p", "type": "quantitative", "scale": {"domain": [0, 0.9], "nice": false, "zero": false}, "axis": null},
  "y": {"field": "j", "type": "quantitative", "scale": {"domain": [0, 4], "nice": false, "zero": false}, "axis": null},
  "text": {"field": "label"}}},
{"data": {"values": [{"p": 0.261, "j": 2.625, "label": "Classical"}]},
 "mark": {"type": "text", "color": "#000000", "font": "Liberation Sans, Arial, sans-serif", "fontWeight": "bold", "fontSize": 35, "align": "center", "baseline": "middle"},
 "encoding": {
  "x": {"field": "p", "type": "quantitative", "scale": {"domain": [0, 0.9], "nice": false, "zero": false}, "axis": null},
  "y": {"field": "j", "type": "quantitative", "scale": {"domain": [0, 4], "nice": false, "zero": false}, "axis": null},
  "text": {"field": "label"}}},
{"data": {"values": [{"p": 0.493, "j": 1.895, "label": "Anomalous beam diffusivity"}]},
 "mark": {"type": "text", "color": "#0000ff", "font": "Liberation Sans, Arial, sans-serif", "fontSize": 35, "align": "center", "baseline": "middle"},
 "encoding": {
  "x": {"field": "p", "type": "quantitative", "scale": {"domain": [0, 0.9], "nice": false, "zero": false}, "axis": null},
  "y": {"field": "j", "type": "quantitative", "scale": {"domain": [0, 4], "nice": false, "zero": false}, "axis": null},
  "text": {"field": "label"}}},
{"data": {"values": [{"p": 0.7529, "j": -0.847, "label": "DIII-D #165061"}]},
 "mark": {"type": "text", "color": "#8a8a8a", "font": "Liberation Sans, Arial, sans-serif", "fontWeight": "bold", "fontSize": 34, "align": "center", "baseline": "middle"},
 "encoding": {
  "x": {"field": "p", "type": "quantitative", "scale": {"domain": [0, 0.9], "nice": false, "zero": false}, "axis": null},
  "y": {"field": "j", "type": "quantitative", "scale": {"domain": [0, 4], "nice": false, "zero": false}, "axis": null},
  "text": {"field": "label"}}}
]
}
],
"spacing": 0,
"bounds": "flush"
}
],
"spacing": 257,
"bounds": "flush",
"config": {
 "view": {"stroke": "#000000", "strokeWidth": 3},
 "axis": {"domain": false, "grid": false, "tickColor": "#000000", "tickWidth": 2.5, "labelColor": "#000000", "titleColor": "#000000", "titleFontWeight": "normal", "labelOverlap": false, "labelFlush": false, "labelBound": false}
}
}
